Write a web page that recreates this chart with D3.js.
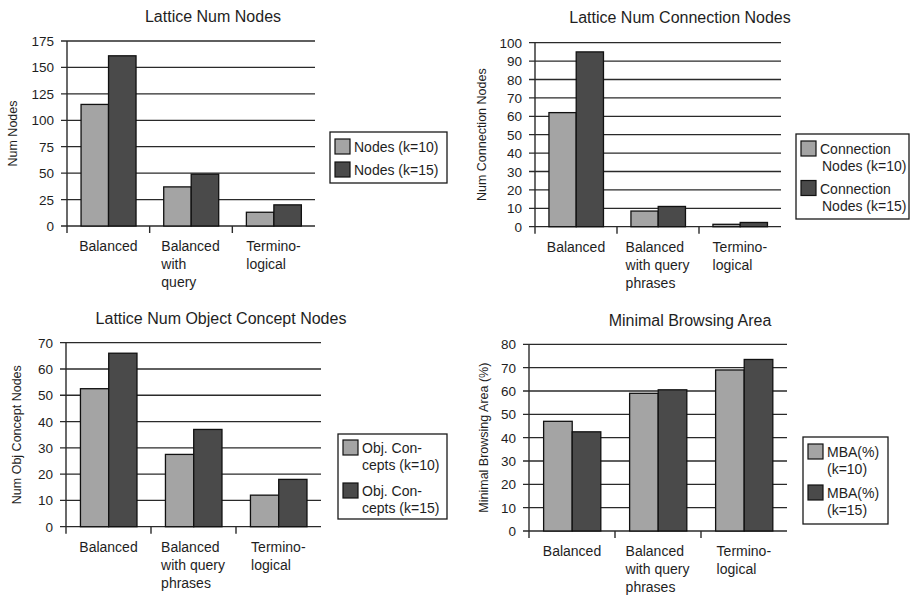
<!DOCTYPE html>
<html>
<head>
<meta charset="utf-8">
<script src="https://cdn.jsdelivr.net/npm/d3@7/dist/d3.min.js"></script>
<style>
  html, body { margin: 0; padding: 0; background: #fff; }
  svg { display: block; font-family: "Liberation Sans", Arial, sans-serif; }
</style>
</head>
<body>
<svg id="chart" width="910" height="596"></svg>
<script>
// ---- data ----
const categories = ["Balanced", "Balanced with query", "Terminological"];

const nodesTitle = "Lattice Num Nodes";
const nodesYLabel = "Num Nodes";
const nodesXLabels = [["Balanced"], ["Balanced", "with", "query"], ["Termino-", "logical"]];
const nodesTicks = [0, 25, 50, 75, 100, 125, 150, 175];
const nodesK10 = [115, 37, 13];
const nodesK15 = [161, 49, 20];
const nodesLegend = [["Nodes (k=10)"], ["Nodes (k=15)"]];

const connTitle = "Lattice Num Connection Nodes";
const connYLabel = "Num Connection Nodes";
const connXLabels = [["Balanced"], ["Balanced", "with query", "phrases"], ["Termino-", "logical"]];
const connTicks = [0, 10, 20, 30, 40, 50, 60, 70, 80, 90, 100];
const connK10 = [62, 8.5, 1.3];
const connK15 = [95, 11, 2.3];
const connLegend = [["Connection", "Nodes (k=10)"], ["Connection", "Nodes (k=15)"]];

const objTitle = "Lattice Num Object Concept Nodes";
const objYLabel = "Num Obj Concept Nodes";
const objXLabels = [["Balanced"], ["Balanced", "with query", "phrases"], ["Termino-", "logical"]];
const objTicks = [0, 10, 20, 30, 40, 50, 60, 70];
const objK10 = [52.5, 27.5, 12];
const objK15 = [66, 37, 18];
const objLegend = [["Obj. Con-", "cepts (k=10)"], ["Obj. Con-", "cepts (k=15)"]];

const mbaTitle = "Minimal Browsing Area";
const mbaYLabel = "Minimal Browsing Area (%)";
const mbaXLabels = [["Balanced"], ["Balanced", "with query", "phrases"], ["Termino-", "logical"]];
const mbaTicks = [0, 10, 20, 30, 40, 50, 60, 70, 80];
const mbaK10 = [47, 59, 69];
const mbaK15 = [42.5, 60.5, 73.5];
const mbaLegend = [["MBA(%)", "(k=10)"], ["MBA(%)", "(k=15)"]];

const seriesKeys = ["k10", "k15"];
const colors = { k10: "#a4a4a4", k15: "#4a4a4a" };
const ink = "#1e1e1e";

const svg = d3.select("#chart");

function drawPanel(p) {
  const g = svg.append("g");
  const yMax = p.ticks[p.ticks.length - 1];
  const x0 = d3.scaleBand().domain(categories).range([p.left, p.right]).padding(0);
  const x1 = d3.scaleBand().domain(seriesKeys)
    .range([x0.bandwidth() * 0.17, x0.bandwidth() * 0.835]).padding(0);
  const y = d3.scaleLinear().domain([0, yMax]).range([p.bottom, p.top]);

  // horizontal grid lines with tick stubs on the left
  g.selectAll("line.grid").data(p.ticks).join("line")
    .attr("x1", p.left - 6).attr("x2", p.right)
    .attr("y1", d => y(d)).attr("y2", d => y(d))
    .attr("stroke", "#2a2a2a").attr("stroke-width", 1.3);

  // tick labels
  g.selectAll("text.tick").data(p.ticks).join("text")
    .attr("x", p.left - 13).attr("y", d => y(d) + 5)
    .attr("text-anchor", "end").attr("font-size", 13.5).attr("fill", ink)
    .text(d => d);

  // bars
  const rows = categories.map((c, i) => ({ cat: c, k10: p.k10[i], k15: p.k15[i] }));
  const grp = g.selectAll("g.cat").data(rows).join("g")
    .attr("transform", d => `translate(${x0(d.cat)},0)`);
  grp.selectAll("rect").data(d => seriesKeys.map(k => ({ key: k, value: d[k] }))).join("rect")
    .attr("x", d => x1(d.key))
    .attr("width", x1.bandwidth())
    .attr("y", d => y(d.value))
    .attr("height", d => y(0) - y(d.value))
    .attr("fill", d => colors[d.key])
    .attr("stroke", "#111").attr("stroke-width", 1.3);

  // vertical axis line and category separators
  g.append("line").attr("x1", p.left).attr("x2", p.left)
    .attr("y1", p.top).attr("y2", p.bottom + 7)
    .attr("stroke", "#2a2a2a").attr("stroke-width", 1.4);
  g.selectAll("line.sep").data(categories.slice(1)).join("line")
    .attr("x1", d => x0(d)).attr("x2", d => x0(d))
    .attr("y1", p.bottom).attr("y2", p.bottom + 7)
    .attr("stroke", "#2a2a2a").attr("stroke-width", 1.4);

  // category labels: left-aligned lines, block centred under the category
  categories.forEach((c, i) => {
    const t = g.append("text").attr("font-size", 14).attr("fill", ink);
    p.xLabels[i].forEach((line, j) => {
      t.append("tspan").attr("x", 0).attr("y", p.bottom + 25 + j * 18).text(line);
    });
    const w = t.node().getBBox().width;
    t.attr("transform", `translate(${x0(c) + x0.bandwidth() / 2 - w / 2},0)`);
  });

  // title
  g.append("text").attr("x", p.titleX).attr("y", p.titleY)
    .attr("text-anchor", "middle").attr("font-size", 16).attr("fill", ink)
    .text(p.title);

  // y-axis title
  g.append("text")
    .attr("transform", `translate(${p.yLabelX},${(p.top + p.bottom) / 2}) rotate(-90)`)
    .attr("text-anchor", "middle").attr("font-size", 12.5).attr("fill", ink)
    .text(p.yLabel);

  // legend
  const L = p.legend;
  g.append("rect").attr("x", L.x).attr("y", L.y).attr("width", L.w).attr("height", L.h)
    .attr("fill", "#fff").attr("stroke", "#1a1a1a").attr("stroke-width", 1.3);
  seriesKeys.forEach((k, i) => {
    const top = L.y + L.pad + i * L.step;
    g.append("rect").attr("x", L.x + 5).attr("y", top).attr("width", 15).attr("height", 15)
      .attr("fill", colors[k]).attr("stroke", "#111").attr("stroke-width", 1.2);
    p.legendText[i].forEach((line, j) => {
      g.append("text").attr("x", L.x + 24 + (j > 0 ? L.indent : 0)).attr("y", top + 13 + j * 17)
        .attr("font-size", 14).attr("fill", ink).text(line);
    });
  });
}

drawPanel({
  title: nodesTitle, yLabel: nodesYLabel, xLabels: nodesXLabels, ticks: nodesTicks,
  k10: nodesK10, k15: nodesK15, legendText: nodesLegend,
  left: 67, right: 315, top: 41, bottom: 226,
  titleX: 213, titleY: 22, yLabelX: 17,
  legend: { x: 330, y: 132, w: 117, h: 51, pad: 7, step: 23, indent: 0 }
});

drawPanel({
  title: connTitle, yLabel: connYLabel, xLabels: connXLabels, ticks: connTicks,
  k10: connK10, k15: connK15, legendText: connLegend,
  left: 535, right: 781, top: 42.7, bottom: 226.7,
  titleX: 680, titleY: 23, yLabelX: 486,
  legend: { x: 796, y: 134, w: 113, h: 85, pad: 7, step: 39.5, indent: 2 }
});

drawPanel({
  title: objTitle, yLabel: objYLabel, xLabels: objXLabels, ticks: objTicks,
  k10: objK10, k15: objK15, legendText: objLegend,
  left: 66, right: 321, top: 342.7, bottom: 526.7,
  titleX: 221, titleY: 324, yLabelX: 21,
  legend: { x: 338, y: 434, w: 109, h: 85, pad: 6, step: 43, indent: 0 }
});

drawPanel({
  title: mbaTitle, yLabel: mbaYLabel, xLabels: mbaXLabels, ticks: mbaTicks,
  k10: mbaK10, k15: mbaK15, legendText: mbaLegend,
  left: 529, right: 787, top: 344.3, bottom: 531,
  titleX: 690, titleY: 326, yLabelX: 488,
  legend: { x: 803, y: 437, w: 85, h: 87, pad: 7, step: 41, indent: 0 }
});
</script>
</body>
</html>
